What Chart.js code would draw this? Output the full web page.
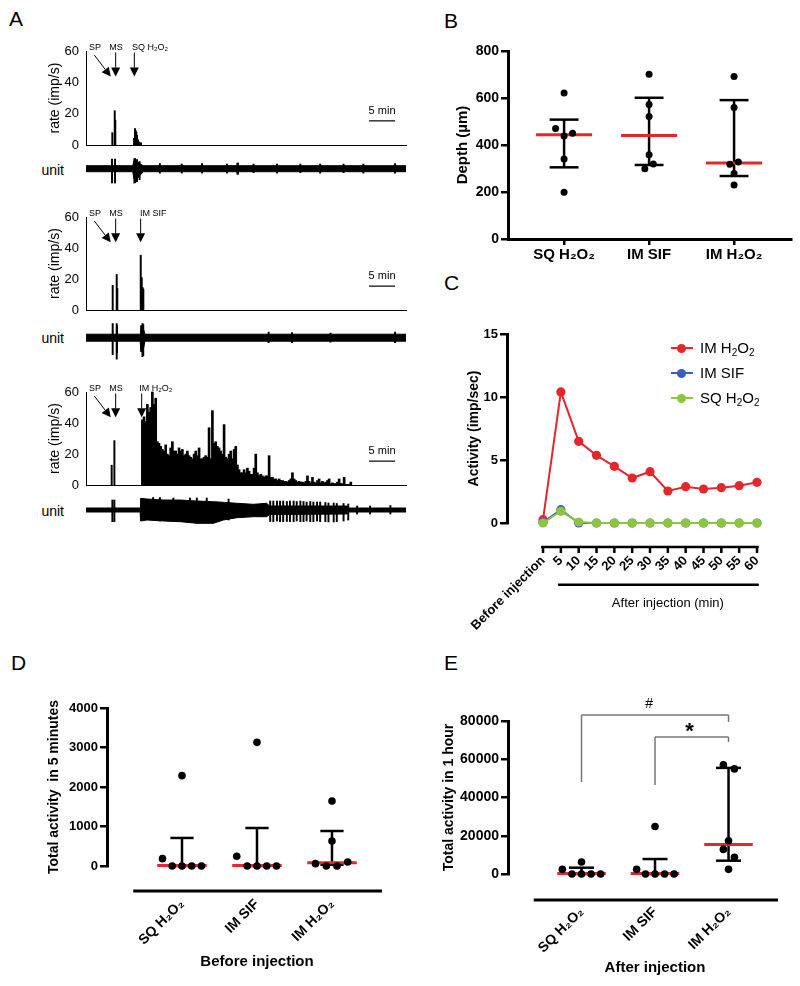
<!DOCTYPE html>
<html>
<head>
<meta charset="utf-8">
<script src="https://cdn.jsdelivr.net/npm/chart.js@4.4.1/dist/chart.umd.min.js"></script>
<style>
  body { margin: 0; width: 800px; height: 986px; position: relative; overflow: hidden; background: #fff;
         font-family: "Liberation Sans", Arial, Helvetica, sans-serif; color: #000; }
  canvas { position: absolute; }
  .pl { position: absolute; font-size: 21px; line-height: 21px; }
  .unit { position: absolute; left: 20px; width: 44px; text-align: right; font-size: 14px; line-height: 16px; }
  .leg { position: absolute; left: 671px; font-size: 15px; line-height: 18px; white-space: nowrap; }
  .leg .ln { position: absolute; left: 0; top: 8px; width: 22px; height: 2px; }
  .leg .dot { position: absolute; left: 6px; top: 4.5px; width: 9px; height: 9px; border-radius: 50%; }
  .leg .tx { position: absolute; left: 29px; top: 0; }
  .leg sub { font-size: 10px; vertical-align: -3px; line-height: 0; }
</style>
</head>
<body>
<div class="pl" style="left:9px;top:8px">A</div>
<div class="pl" style="left:444px;top:10px">B</div>
<div class="pl" style="left:444px;top:272px">C</div>
<div class="pl" style="left:11px;top:652px">D</div>
<div class="pl" style="left:444px;top:652px">E</div>
<div class="unit" style="top:162px">unit</div>
<div class="unit" style="top:330px">unit</div>
<div class="unit" style="top:503px">unit</div>

<script>
// ═══════════════════════════════════════════════════════════════════════
// Data
// ═══════════════════════════════════════════════════════════════════════
const trMax = 61.5; // minutes shown in each recording

// A — rate histograms (imp/s) at time (min)
const rate1T = [5.06, 5.52, 5.63, 9.23, 9.42, 9.56, 9.67, 9.81, 10.0, 10.25, 10.58];
const rate1V = [8, 22, 16, 4.4, 10.6, 9.3, 8.3, 6.4, 3.5, 2, 1.5];
const rate2T = [5.13, 5.9, 6.02, 10.52, 10.71, 10.9, 11.02];
const rate2V = [16, 23, 14, 35.4, 21, 14.5, 13.5];
const rate3EarlyT = [5.06, 5.58];
const rate3EarlyV = [12.9, 28.7];
const rate3Start = 10.64, rate3Step = 0.3205; // one reading per 1.67 px
const rate3V = [
  42, 44, 41, 52, 47, 50, 60, 52, 56, 28, 27, 25, 23, 22, 26, 20, 19, 24, 28, 22,
  22, 20, 24, 22, 23, 19, 20, 22, 19, 18, 17, 20, 22, 19, 24, 17, 17, 18, 19, 18,
  37, 17, 48, 27, 28, 25, 24, 22, 20, 39, 18, 17, 20, 22, 17, 23, 25, 13, 10, 8,
  8, 10, 8, 11, 9, 7, 7, 11, 20, 8, 6, 7, 6, 5, 6, 6, 19, 5, 5, 4,
  4, 3, 4, 3, 3, 2.5, 2.5, 2, 3, 4, 8, 4, 3, 2, 2.5, 2, 2, 1.5, 2.5, 6,
  2.5, 1.5, 5, 2, 1.5, 3, 4, 1.5, 2.5, 1.5, 2, 3, 4, 1, 1.5, 1, 1, 2, 4, 1,
  1, 5, 0.5, 0.5, 0.5, 2,
];

// A — unit traces: band envelope (time, upper, lower) and spikes [time, upper, lower]
const unit1T = [0, 9.0, 9.2, 9.6, 10.1, 10.7, 11.0, 61.5];
const unit1Hi = [3, 3, 8, 9, 6, 4, 3, 3];
const unit1Lo = [-3, -3, -10, -12, -8, -5, -3, -3];
const unit1Spk = [[5.0, 9.5, -14.5], [5.58, 9.5, -14.5], [9.3, 10, -14.5], [9.45, 10, -14], [9.8, 9, -13],
  [10.3, 7, -11], [14.2, 5, -4.5], [18.4, 4.5, -4.5], [22.3, 5, -4.5], [27.1, 4.5, -4.5], [29.1, 5.5, -5.5],
  [29.2, 5.5, -5.5], [32.2, 4.5, -4], [36.7, 4.5, -4.5], [41.2, 4.5, -4], [45.0, 4.5, -4.5], [49.5, 4.5, -4],
  [53.3, 4.5, -4.5], [59.4, 5, -4.5]];
const unit2T = [0, 10.4, 10.55, 11.1, 11.3, 61.5];
const unit2Hi = [3.5, 3.5, 9, 8, 3.5, 3.5];
const unit2Lo = [-3.5, -3.5, -12, -10, -3.5, -3.5];
const unit2Spk = [[5.13, 14, -17], [5.9, 14, -21.5], [5.95, 12, -15], [10.6, 12, -14], [10.85, 14, -19],
  [11.0, 13, -18], [35.1, 5.5, -5], [39.6, 5, -5], [47.0, 4.5, -4.5], [59.4, 5.5, -5]];
const unit3T = [0, 10.4, 10.5, 11.7, 14.9, 18.1, 21.3, 24.5, 26.4, 29.0, 32.2, 34.7, 35.3, 50.1, 50.6, 61.5];
const unit3Hi = [2, 2, 11.7, 11, 10, 10, 9, 8.3, 7.7, 6.7, 5.7, 6.7, 4, 4, 2, 2];
const unit3Lo = [-2, -2, -11, -10, -11, -11.7, -13.3, -13.3, -10, -7.7, -6.7, -6.7, -4.5, -4, -2, -2];
const unit3Spk = [[5.07, 10, -11.7], [5.45, 10, -11.7], [12.9, 12.5, -10], [14.2, 12.5, -11], [16.8, 12, -11],
  [20.0, 12, -12], [21.3, 12, -13], [23.2, 12, -13], [27.4, 11, -10],
  [35.4, 9, -11.5], [36.0, 9, -11.7], [36.7, 9, -11], [37.3, 9, -11.7], [37.9, 9, -11.7], [38.6, 8.5, -11.5],
  [39.2, 9, -11.7], [39.9, 9, -11.7], [40.5, 8.5, -11], [41.2, 9, -11.7], [41.8, 8.5, -11.7], [42.4, 8, -11],
  [43.1, 8.5, -11.7], [43.7, 8, -11.7], [44.4, 8, -11], [45.0, 8, -11.7], [46.0, 7.5, -11.7], [46.6, 7, -12],
  [47.6, 7, -12], [48.2, 6.5, -11.7], [49.5, 6.5, -11], [50.4, 6, -10], [52.1, 4, -4], [54.6, 4, -4], [58.5, 4.5, -4]];

// B–E groups
const groupNames = ["SQ H₂O₂", "IM SIF", "IM H₂O₂"];

// B — recording depth (µm)
const depthVals = [[621, 470, 450, 438, 340, 199], [701, 572, 521, 359, 319, 299], [691, 560, 318, 328, 279, 230]];
const depthJit = [[0, -0.1, 0.1, 0, 0, 0], [0, 0, 0, 0, 0.05, -0.05], [0, 0, -0.05, 0.05, 0, 0]];
const depthMed = [444, 440, 323];
const depthLo = [305, 315, 268];
const depthHi = [508, 601, 591];

// C — activity (imp/sec) per 5-min bin
const timeLabels = ["Before injection", "5", "10", "15", "20", "25", "30", "35", "40", "45", "50", "55", "60"];
const actIMH2O2 = [0.26, 10.4, 6.48, 5.37, 4.5, 3.57, 4.07, 2.54, 2.88, 2.7, 2.8, 2.96, 3.23];
const actIMSIF = [0.05, 1.06, 0, 0, 0, 0, 0, 0, 0, 0, 0, 0, 0];
const actSQH2O2 = [0, 0.93, 0.08, 0, 0, 0, 0, 0, 0, 0, 0, 0, 0];

// D — total activity in 5 min before injection
const beforeVals = [[2287, 186, 0, 0, 0, 0], [3131, 245, 0, 0, 0, 0], [1646, 633, 101, 59, 0, 0]];
const beforeJit = [[0, -0.26, -0.13, 0, 0.13, 0.26], [0, -0.27, -0.13, 0, 0.13, 0.26], [0, 0, 0.21, -0.22, -0.075, 0.067]];
const beforeMed = [15, 15, 84];
const beforeLo = [0, 0, 30];
const beforeHi = [710, 962, 886];

// E — total activity in 1 h after injection
const afterVals = [[6260, 2435, 0, 0, 0, 0], [24870, 2435, 0, 0, 0, 0], [57040, 54960, 17390, 12870, 8700, 2435]];
const afterJit = [[0, -0.26, -0.13, 0, 0.13, 0.26], [0, -0.25, -0.13, 0, 0.13, 0.26], [-0.07, 0.08, 0, -0.07, 0.08, 0]];
const afterMed = [300, 300, 15480];
const afterLo = [0, 0, 6960];
const afterHi = [3300, 7826, 55480];

const RED = "#e5262b", BLUE = "#3d5cc0", GREEN = "#8dc540";

// ═══════════════════════════════════════════════════════════════════════
// Helpers
// ═══════════════════════════════════════════════════════════════════════
const fam = "'Liberation Sans', Arial, Helvetica, sans-serif";
Chart.defaults.font.family = fam;
Chart.defaults.color = "#000";
Chart.defaults.animation = false;
Chart.defaults.responsive = false;
Chart.defaults.plugins.legend.display = false;
Chart.defaults.plugins.tooltip.enabled = false;

const plain = (v) => String(v); // no thousands separators

function mk(box) {
  const c = document.createElement("canvas");
  c.width = box[2]; c.height = box[3];
  c.style.left = box[0] + "px"; c.style.top = box[1] + "px";
  document.body.appendChild(c);
  return c.getContext("2d");
}

// annotations in data units: lines, arrows, texts
const notes = {
  id: "notes",
  afterDraw(chart, args, o) {
    const { ctx, scales: { x, y } } = chart;
    if (!x || !y) return;
    const P = (a, b) => [x.getPixelForValue(a), y.getPixelForValue(b)];
    ctx.save();
    (o.lines || []).forEach(([a, b, c, d, col, w]) => {
      const p = P(a, b), q = P(c, d);
      ctx.strokeStyle = col; ctx.lineWidth = w; ctx.lineCap = "butt";
      ctx.beginPath(); ctx.moveTo(p[0], p[1]); ctx.lineTo(q[0], q[1]); ctx.stroke();
    });
    (o.arrows || []).forEach(([a, b, c, d]) => {
      const p = P(a, b), q = P(c, d);
      const ang = Math.atan2(q[1] - p[1], q[0] - p[0]);
      const L = 9, W = 4.5, co = Math.cos(ang), si = Math.sin(ang);
      const bx = q[0] - L * co, by = q[1] - L * si;
      ctx.strokeStyle = "#000"; ctx.lineWidth = 1;
      ctx.beginPath(); ctx.moveTo(p[0], p[1]); ctx.lineTo(bx, by); ctx.stroke();
      ctx.fillStyle = "#000";
      ctx.beginPath(); ctx.moveTo(q[0], q[1]);
      ctx.lineTo(bx + W * si, by - W * co); ctx.lineTo(bx - W * si, by + W * co);
      ctx.closePath(); ctx.fill();
    });
    (o.texts || []).forEach(([s, a, b, size, align, weight]) => {
      const p = P(a, b);
      ctx.font = `${weight} ${size}px ${fam}`;
      ctx.textAlign = align; ctx.textBaseline = "middle"; ctx.fillStyle = "#000";
      ctx.fillText(s, p[0], p[1]);
    });
    ctx.restore();
  },
};

// GraphPad-style detached x axis line
const offsetAxis = {
  id: "offsetAxis",
  afterDraw(chart, args, o) {
    if (!o.gap) return;
    const { ctx, chartArea, scales: { x } } = chart;
    const y = chartArea.bottom + o.gap;
    ctx.save();
    ctx.strokeStyle = "#000"; ctx.lineWidth = o.width;
    ctx.beginPath();
    ctx.moveTo(x.getPixelForValue(o.from), y); ctx.lineTo(x.getPixelForValue(o.to), y);
    if (o.tick) x.ticks.forEach((t) => { const px = x.getPixelForValue(t.value); ctx.moveTo(px, y); ctx.lineTo(px, y + o.tick); });
    ctx.stroke();
    ctx.restore();
  },
};
Chart.register(notes, offsetAxis);

// ═══════════════════════════════════════════════════════════════════════
// A — recordings
// ═══════════════════════════════════════════════════════════════════════
function rateChart(box, area, sets, stimT, stimLabel, stimLabelT) {
  return new Chart(mk(box), {
    type: "bar",
    data: { datasets: sets.map(([t, v, w]) => ({
      data: t.map((x, i) => ({ x, y: v[i] })), backgroundColor: "#000", barThickness: w, clip: false,
    })) },
    options: {
      layout: { padding: { top: area[1] - box[1], right: box[0] + box[2] - area[2], left: 0, bottom: 0 } },
      scales: {
        x: { type: "linear", min: 0, max: trMax, offset: false, ticks: { display: false },
             grid: { display: false, drawTicks: false }, border: { color: "#000", width: 1 },
             afterFit: (s) => { s.height = box[1] + box[3] - area[3]; } },
        y: { min: 0, max: 60, ticks: { stepSize: 20, font: { size: 13 }, padding: 7 },
             grid: { display: false, drawTicks: false }, border: { color: "#000", width: 1 },
             title: { display: true, text: "rate (imp/s)", font: { size: 14 }, padding: { top: 47, bottom: 0 } },
             afterFit: (s) => { s.width = area[0] - box[0]; } },
      },
      plugins: { notes: {
        arrows: [[1.6, 57.4, 4.75, 43.7], [5.7, 59, 5.7, 43.7], [stimT, 59, stimT, 43.7]],
        lines: [[54.4, 15.5, 59.4, 15.5, "#000", 1.2]],
        texts: [["SP", 1.73, 62.3, 9, "center", ""], ["MS", 5.77, 62.3, 9, "center", ""],
                [stimLabel, stimLabelT, 62.3, 9, "left", ""], ["5 min", 56.9, 22, 11, "center", ""]],
      } },
    },
  });
}

function unitChart(box, center, ylim, t, hi, lo, spikes) {
  return new Chart(mk(box), {
    type: "line",
    data: { datasets: [
      { data: t.map((x, i) => ({ x, y: hi[i] })), borderColor: "#000", borderWidth: 1, pointRadius: 0, fill: false },
      { data: t.map((x, i) => ({ x, y: lo[i] })), borderColor: "#000", borderWidth: 1, pointRadius: 0, fill: "-1", backgroundColor: "#000" },
      { type: "bar", data: spikes.map(([x, a, b]) => ({ x, y: [b, a] })), backgroundColor: "#000", barThickness: 1.3 },
    ] },
    options: {
      layout: { padding: { left: 86 - box[0], right: box[0] + box[2] - 406,
                           top: center - ylim[1] - box[1], bottom: box[1] + box[3] - (center - ylim[0]) } },
      scales: { x: { type: "linear", min: 0, max: trMax, display: false, offset: false },
                y: { min: ylim[0], max: ylim[1], display: false } },
    },
  });
}

const rate3T = rate3V.map((_, i) => rate3Start + i * rate3Step);
rateChart([0, 25, 420, 135], [86, 51, 406, 154], [[rate1T, rate1V, 1.3]], 9.29, "SQ H₂O₂", 8.85);
unitChart([0, 152, 420, 36], 168.7, [-15, 12], unit1T, unit1Hi, unit1Lo, unit1Spk);
rateChart([0, 190, 420, 135], [86, 217, 406, 320], [[rate2T, rate2V, 1.3]], 10.5, "IM SIF", 10.4);
unitChart([0, 318, 420, 46], 337.7, [-23, 16], unit2T, unit2Hi, unit2Lo, unit2Spk);
rateChart([0, 365, 420, 135], [86, 392, 406, 496], [[rate3EarlyT, rate3EarlyV, 1.3], [rate3T, rate3V, 2]], 10.7, "IM H₂O₂", 10.25);
unitChart([0, 494, 420, 34], 510, [-14, 13], unit3T, unit3Hi, unit3Lo, unit3Spk);

// ═══════════════════════════════════════════════════════════════════════
// B, D, E — scatter with median (red) and interquartile bars
// ═══════════════════════════════════════════════════════════════════════
function seg(data, color, width, order) {
  return { type: "line", data, borderColor: color, borderWidth: width, pointRadius: 0, order, clip: false };
}

function groupSets(vals, jit, med, lo, hi, medHalf, capHalf, r) {
  const sets = [];
  vals.forEach((vs, g) => {
    const x = g + 1;
    sets.push(seg([{ x, y: lo[g] }, { x, y: hi[g] }], "#000", 2.5, 3));
    sets.push(seg([{ x: x - capHalf, y: hi[g] }, { x: x + capHalf, y: hi[g] }], "#000", 2.5, 3));
    sets.push(seg([{ x: x - capHalf, y: lo[g] }, { x: x + capHalf, y: lo[g] }], "#000", 2.5, 3));
    sets.push(seg([{ x: x - medHalf, y: med[g] }, { x: x + medHalf, y: med[g] }], RED, 3, 2));
  });
  sets.push({
    type: "scatter", order: 0, clip: false, pointRadius: r, pointBackgroundColor: "#000", pointBorderWidth: 0,
    data: vals.flatMap((vs, g) => vs.map((v, i) => ({ x: g + 1 + jit[g][i], y: v }))),
  });
  return sets;
}

function groupChart(box, area, o) {
  return new Chart(mk(box), {
    type: "scatter",
    data: { datasets: groupSets(o.vals, o.jit, o.med, o.lo, o.hi, o.medHalf, o.capHalf, o.r) },
    options: {
      layout: { padding: { top: area[1] - box[1], right: box[0] + box[2] - area[2], left: 0, bottom: 0 } },
      scales: {
        x: { type: "linear", min: o.xmin, max: o.xmax,
             afterBuildTicks: (s) => { s.ticks = groupNames.map((_, i) => ({ value: i + 1 })); },
             ticks: { callback: (v, i) => groupNames[i], font: { size: o.xFont, weight: "bold" }, padding: o.xPad,
                      minRotation: o.rot, maxRotation: o.rot, autoSkip: false },
             grid: { display: o.xTicks, drawOnChartArea: false, drawTicks: o.xTicks, tickLength: 6, lineWidth: 2.5, color: "#000" },
             border: { display: o.xBorder, color: "#000", width: 3 },
             afterFit: (s) => { s.height = box[1] + box[3] - area[3]; } },
        y: { min: 0, max: o.ymax,
             ticks: { stepSize: o.step, callback: plain, font: { size: o.yFont, weight: "bold" }, padding: 2 },
             grid: { drawOnChartArea: false, tickLength: 7, lineWidth: 2.5, color: "#000" },
             border: { color: "#000", width: 3 },
             title: { display: true, text: o.title, font: { size: o.tFont, weight: "bold" }, padding: { top: o.tPad, bottom: 0 } },
             afterFit: (s) => { s.width = area[0] - box[0]; } },
      },
      plugins: { offsetAxis: o.axis || {}, notes: o.notes || {} },
    },
  });
}

// B
groupChart([430, 30, 370, 240], [508, 51, 791, 239], {
  vals: depthVals, jit: depthJit, med: depthMed, lo: depthLo, hi: depthHi, medHalf: 0.33, capHalf: 0.17, r: 3.5,
  xmin: 0.34, xmax: 3.67, xFont: 15, xPad: 1, rot: 0, xTicks: true, xBorder: true,
  ymax: 800, step: 200, yFont: 14, title: "Depth (µm)", tFont: 15, tPad: 24,
});

// D
groupChart([0, 690, 400, 296], [107, 708, 382, 866], {
  vals: beforeVals, jit: beforeJit, med: beforeMed, lo: beforeLo, hi: beforeHi, medHalf: 0.33, capHalf: 0.155, r: 3.8,
  xmin: 0, xmax: 3.667, xFont: 14, xPad: 30, rot: 45, xTicks: false, xBorder: false,
  ymax: 4000, step: 1000, yFont: 13, title: "Total activity  in 5 minutes", tFont: 14, tPad: 46,
  axis: { gap: 25, from: 0.35, to: 3.667, width: 3 },
  notes: { texts: [["Before injection", 2, -2430, 15, "center", "bold"]] },
});

// E
groupChart([400, 690, 400, 296], [508, 721, 778, 874], {
  vals: afterVals, jit: afterJit, med: afterMed, lo: afterLo, hi: afterHi, medHalf: 0.33, capHalf: 0.17, r: 3.8,
  xmin: 0, xmax: 3.673, xFont: 14, xPad: 30, rot: 45, xTicks: false, xBorder: false,
  ymax: 80000, step: 20000, yFont: 14, title: "Total activity in 1 hour", tFont: 14, tPad: 41,
  axis: { gap: 26, from: 0.35, to: 3.673, width: 3 },
  notes: {
    lines: [[1, 48100, 1, 83100, "#777", 1.5], [1, 83100, 3, 83100, "#777", 1.5], [3, 83100, 3, 79500, "#777", 1.5],
            [2, 46500, 2, 71600, "#777", 1.5], [2, 71600, 3, 71600, "#777", 1.5], [3, 71600, 3, 69000, "#777", 1.5]],
    texts: [["#", 1.92, 88600, 14, "center", ""], ["*", 2.47, 74500, 22, "center", "bold"],
            ["After injection", 2, -49150, 15, "center", "bold"]],
  },
});

// ═══════════════════════════════════════════════════════════════════════
// C — activity time course
// ═══════════════════════════════════════════════════════════════════════
function series(vals, color, order) {
  return { data: vals.map((y, x) => ({ x, y })), borderColor: color, backgroundColor: color,
           pointBackgroundColor: color, pointBorderWidth: 0, pointRadius: 4.6, borderWidth: 2, order, clip: false };
}

new Chart(mk([430, 300, 370, 350]), {
  type: "line",
  data: { datasets: [series(actSQH2O2, GREEN, 0), series(actIMSIF, BLUE, 1), series(actIMH2O2, RED, 2)] },
  options: {
    layout: { padding: { top: 34, right: 20, left: 0, bottom: 0 } },
    scales: {
      x: { type: "linear", min: -2.02, max: 13.29,
           afterBuildTicks: (s) => { s.ticks = timeLabels.map((_, i) => ({ value: i })); },
           ticks: { callback: (v, i) => timeLabels[i], font: { size: 13, weight: "bold" }, padding: 30,
                    minRotation: 45, maxRotation: 45, autoSkip: false },
           grid: { display: false, drawTicks: false }, border: { display: false },
           afterFit: (s) => { s.height = 127; } },
      y: { min: 0, max: 15, ticks: { stepSize: 5, callback: plain, font: { size: 13, weight: "bold" }, padding: 2 },
           grid: { drawOnChartArea: false, tickLength: 7, lineWidth: 2.5, color: "#000" },
           border: { color: "#000", width: 3 },
           title: { display: true, text: "Activity (imp/sec)", font: { size: 14, weight: "bold" }, padding: { top: 36, bottom: 0 } },
           afterFit: (s) => { s.width = 77; } },
    },
    plugins: {
      offsetAxis: { gap: 24, from: -0.11, to: 12.1, width: 2.5, tick: 6 },
      notes: { lines: [[0.84, -4.9, 12.1, -4.9, "#000", 2.5]],
               texts: [["After injection (min)", 7.0, -6.35, 13, "center", ""]] },
    },
  },
});

// C legend
[["IM H<sub>2</sub>O<sub>2</sub>", RED, 339], ["IM SIF", BLUE, 364], ["SQ H<sub>2</sub>O<sub>2</sub>", GREEN, 389]].forEach(([html, col, top]) => {
  const d = document.createElement("div");
  d.className = "leg"; d.style.top = top + "px";
  d.innerHTML = `<span class="ln" style="background:${col}"></span><span class="dot" style="background:${col}"></span><span class="tx">${html}</span>`;
  document.body.appendChild(d);
});
</script>
</body>
</html>
